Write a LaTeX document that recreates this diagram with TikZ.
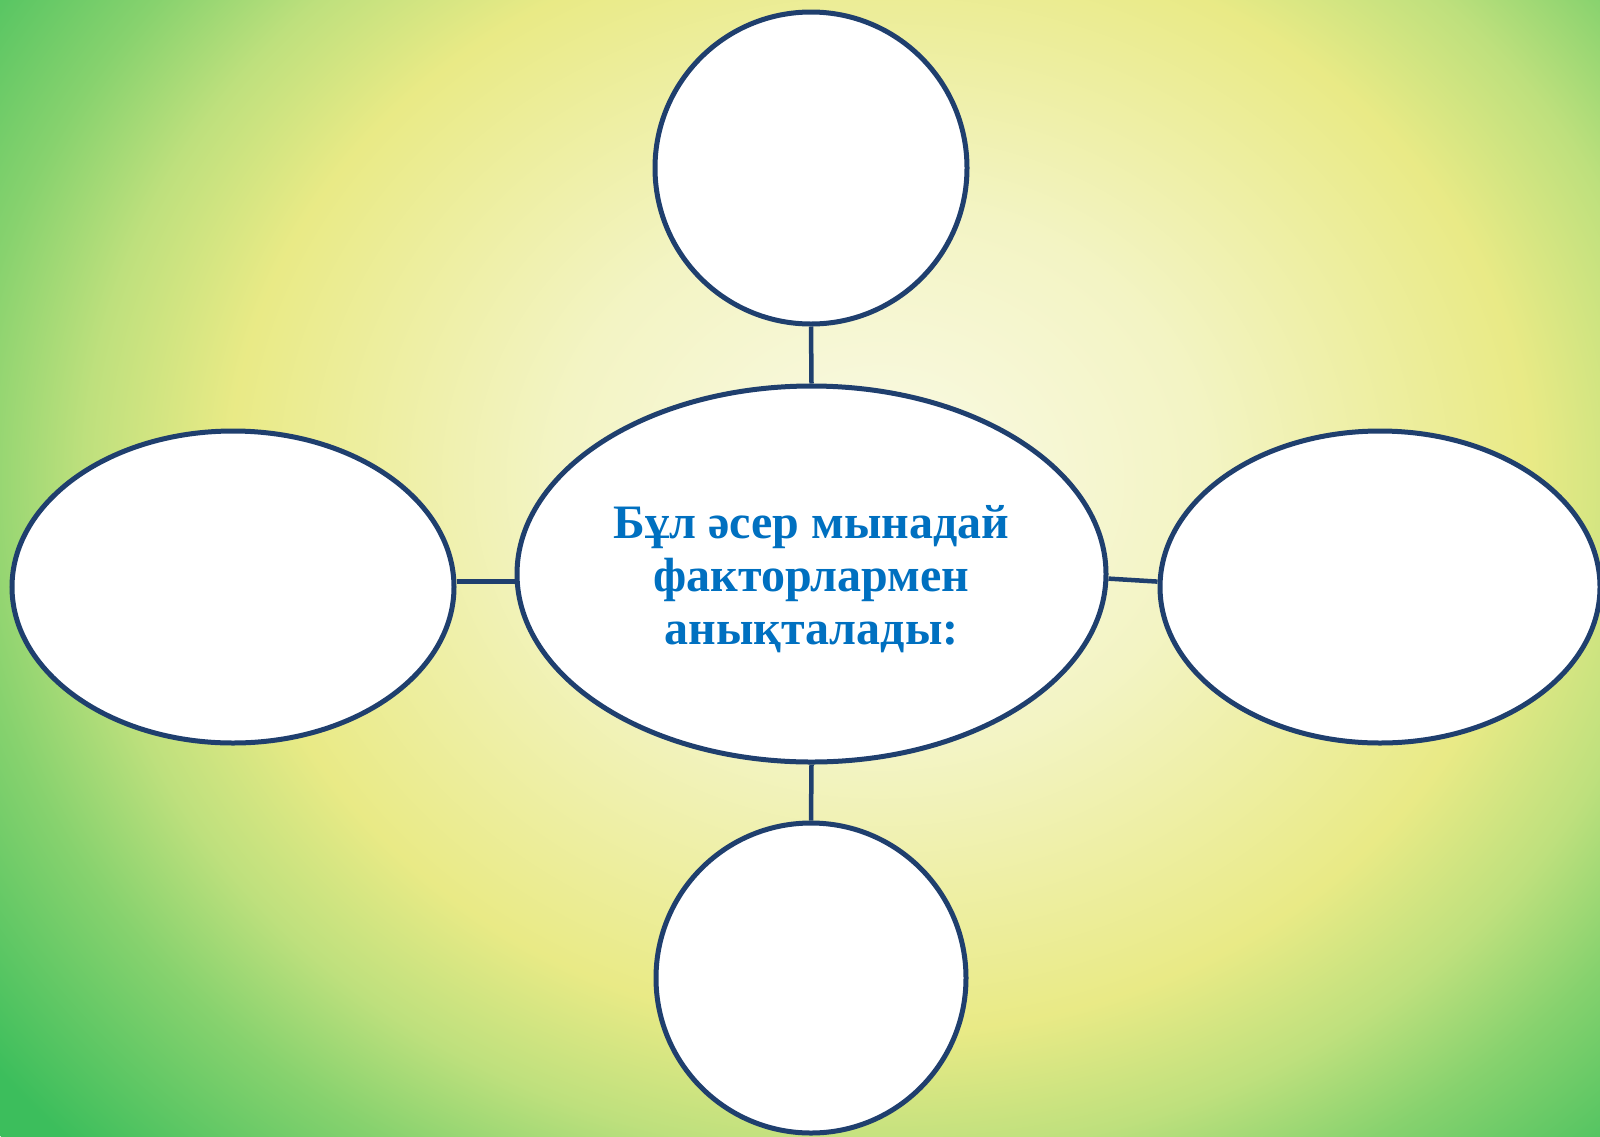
\documentclass[tikz,border=0pt]{standalone}
\usepackage{fontspec}
\setmainfont{Liberation Serif}
\usetikzlibrary{shapes.geometric,calc}
\definecolor{bgA}{RGB}{250,250,230}
\definecolor{bgB}{RGB}{243,244,196}
\definecolor{bgC}{RGB}{233,234,134}
\definecolor{bgD}{RGB}{190,224,125}
\definecolor{bgE}{RGB}{135,210,110}
\definecolor{bgF}{RGB}{60,190,92}
\definecolor{edgeblue}{RGB}{31,63,110}
\definecolor{textblue}{RGB}{0,112,192}
\pgfdeclareradialshading{slidebg}{\pgfpoint{0bp}{0bp}}{%
  color(0bp)=(bgA); color(6.95bp)=(bgB); color(13.9bp)=(bgC);
  color(17bp)=(bgD); color(19.6bp)=(bgE); color(24bp)=(bgF); color(50bp)=(bgF)}
\tikzset{
  bubble/.style={draw=edgeblue, line width=5pt, fill=white, inner sep=0pt},
  roundbubble/.style={bubble, circle},
  ovalbubble/.style={bubble, ellipse},
  link/.style={draw=edgeblue, line width=4.5pt},
  maintext/.style={text=textblue, font=\bfseries\fontsize{48}{53}\selectfont, align=center, inner sep=0pt}
}
\begin{document}
\begin{tikzpicture}[x=1pt,y=-1pt]
\useasboundingbox (0,0) rectangle (1600,1136);
\begin{scope}
\clip (0,0) rectangle (1600,1136);
\path[shading=slidebg] (880,480) ellipse [x radius=1170, y radius=995];
\end{scope}
\node[roundbubble, minimum size=312pt] (top) at (811,168) {};
\node[roundbubble, minimum size=310pt] (bot) at (811,978) {};
\node[ovalbubble, minimum width=442pt, minimum height=312pt] (lft) at (233,587) {};
\node[ovalbubble, minimum width=440pt, minimum height=312pt] (rgt) at (1380,587) {};
\node[ovalbubble, minimum width=589pt, minimum height=376pt] (ctr) at (811.5,574) {};
\node[maintext] (ctrlbl) at (811.5,579) {Бұл әсер мынадай\\факторлармен\\анықталады:};
\draw[link] (top.south) -- (ctr.north);
\draw[link] (ctr.south) -- (bot.north);
\draw[link] ($(lft.east)+(0,-5.3)$) -- ($(ctr.west)+(0,7.7)$);
\draw[link] ($(ctr.east)+(0,4.6)$) -- ($(rgt.west)+(0,-5.4)$);
\end{tikzpicture}
\end{document}
